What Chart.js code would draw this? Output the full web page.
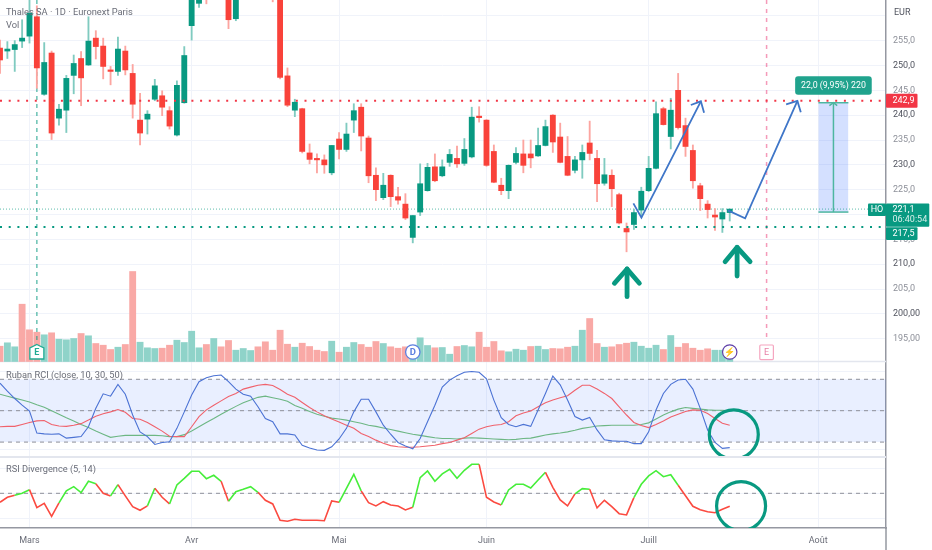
<!DOCTYPE html>
<html lang="fr"><head><meta charset="utf-8"><title>Thales SA</title>
<style>html,body{margin:0;padding:0;background:#fff}canvas{display:block}</style>
<script src="https://cdn.jsdelivr.net/npm/chart.js@4/dist/chart.umd.min.js"></script>
</head><body><canvas id="c" width="932" height="550"></canvas>
<script>
const opens=[253.5,252.9,253.2,254.9,255.9,259.8,244.2,252.5,239.4,241,248,251.4,250.1,255.5,253.9,249.1,248.8,252.9,248.4,239,239.2,243.2,243.9,240.9,236,242.5,258,262.5,270,268,270,266,259.4,268,272,272,268,268,266,247.9,241,241.3,232.4,231.3,231,228.4,235.2,233.1,239,241.6,235.4,227.9,223.4,227.9,223.6,222.1,215.4,220.5,224.8,229.6,227.8,230.5,231.3,230.3,231.6,239.8,239,232.7,225.9,224.8,230.5,232.2,232.2,231.8,233.9,240,235.6,231.7,228.9,231,234.4,231.3,226.3,227.9,224,217.2,218,220.9,224.8,229.3,241.3,235.7,245,237.9,232.9,225.8,222.1,219.9,219.1,220.4];
const highs=[255.1,254.8,255,259.2,265,262,254.6,252.9,242.2,248,252.1,252.8,259.8,257,255.5,249.8,255.7,253.9,250.2,244.4,240.9,247.2,244.9,241.7,246.9,253.8,272,268,271,272,274,268,268,276,276,275,273,268,268,249.5,243.2,241.4,234.2,232.2,232,233.9,236.5,238.4,242.3,242.3,235.8,229.4,228.3,228,225.5,224.2,219.8,230.2,230.3,232.2,231,233.1,233.8,235.3,241.6,241.7,239.1,234,227.3,230,233.5,235,235,237.4,239,240.1,238.4,235.7,231.7,234,238.8,232.9,231.3,229,224.3,218.3,221.1,225.5,231.7,242.7,241.6,243.4,248.4,239.4,234,226.3,222.8,221.2,221.2,221.1];
const lows=[248.4,251.4,248.8,253.6,254.5,245.4,244,235.1,238,236.5,244.3,241.9,250,251.3,247.3,246.1,248,248.1,239.4,234,236.2,242.9,239.9,237.2,235.8,242.4,255.1,261.7,262.4,265,266,257.4,259,266,268,268,265,262.8,247.3,241.7,239.7,232.4,230.2,228.4,228.3,228,231.2,232.7,236.5,232.8,226.4,222.8,223,221.6,222.1,219,214.3,219.8,224.7,226.6,227.6,229.7,229.5,229.9,231.4,238.6,229.7,226.4,224,223.2,230.2,228.4,229.4,231.7,233.8,232.5,230.4,227.8,228.4,227.3,231,222.6,225.9,221.6,218.1,212.5,217,219.5,224.6,229.2,238,233.2,237.2,231.7,225.3,220.8,219.3,216.8,216.4,218.7];
const closes=[251.1,253.3,254.2,255.5,260.5,249.5,250.6,236.4,241.2,247.4,250.4,247.5,254.9,253.8,249.8,248.8,253.3,249.1,242.2,236.4,240.2,245.9,241.6,237.8,246,252,268,266,264,270,268,259.2,266,272,270,268,270,265,247.6,242,242.6,232.7,231.1,231,230,233.9,233.1,236.2,240.9,235.8,227.8,225,225.9,223.6,222.9,219.3,219.8,226.2,229.5,226.8,229.6,232.1,230.2,233.1,239.6,239.5,229.9,226.5,224.8,229.9,232.3,229.9,231.4,233.9,237.7,234.6,230.5,227.9,231,232.5,232.3,226.2,228,225.2,218.3,216.5,220.4,224.7,229.3,240.3,238.1,241,237.5,233.7,226.8,223.2,221,219.5,220.4,221.1];
const volumes=[15.3,18.7,14.7,57.3,31.7,29.3,26.7,28.7,22.3,21.7,23,28,25.7,18,16.3,12,14.3,17,90,19.3,13.7,13,13.3,16.3,21.3,19,30.3,13.7,17,23,14.7,21,11.3,13,11,14.7,19.7,11.3,31.3,17.3,14.3,18.3,15,11.3,10,20.3,9.3,14.3,19,17,14.3,20,18,14.7,13.3,14.7,14,23.7,16,13.7,14,7.3,15,16,14.7,29.3,14.3,20,10.7,9.7,12.3,11.3,15,15.3,12,13,12.7,14.3,15.3,31.3,43,18,14.3,14.7,17,18.3,19.3,15.3,13.3,16.3,12,26,14.3,18,13.3,11.3,12.7,11.3,11.3,2.7];
const volumeUp=[0,1,1,0,0,0,1,0,1,1,1,0,1,0,0,0,1,0,0,1,1,1,0,0,1,1,1,1,0,1,0,0,1,1,1,0,0,0,0,0,1,0,0,0,0,1,0,1,1,0,0,0,1,0,0,0,1,1,1,0,1,1,0,1,1,0,0,0,0,1,1,1,0,1,1,0,0,0,1,1,0,0,1,0,0,0,1,1,1,1,0,1,0,0,0,0,0,1,1,1];
const rciFast=[70,50,31,14,-1,-57,-59,-60,-59,-70,-68,-66,-41,6,43,37,67,42,-11,-54,-66,-86,-81,-79,-45,-3,40,74,84,89,91,74,55,42,37,10,-20,-28,-59,-59,-62,-88,-95,-100,-101,-92,-72,-45,-3,29,29,-3,-37,-60,-81,-90,-97,-71,-28,14,60,78,89,98,100,98,81,27,-18,-35,-41,-35,-40,2,44,88,66,27,-15,-24,-17,-49,-74,-77,-78,-78,-84,-84,-54,2,44,67,78,80,55,6,-49,-81,-96,-94];
const rciMid=[-41,-40,-40,-35,-30,-26,-25,-35,-39,-40,-37,-33,-24,-14,-8,-3,3,-4,-20,-22,-30,-41,-52,-65,-66,-66,-41,-15,2,14,25,36,44,55,60,65,67,64,54,42,34,21,8,-3,-13,-21,-29,-37,-45,-58,-66,-75,-83,-89,-92,-93,-93,-92,-90,-88,-84,-81,-75,-69,-58,-47,-41,-37,-35,-28,-13,-6,-1,10,20,27,33,38,52,65,65,55,44,31,10,-11,-30,-38,-43,-35,-26,-16,-9,-2,2,1,-7,-20,-32,-37];
const rciSlow=[42,37,32,27,22,15,9,0,-9,-18,-26,-35,-43,-52,-60,-68,-65,-63,-63,-63,-63,-63,-64,-66,-66,-61,-52,-41,-30,-20,-9,1,11,20,27,34,37,33,29,24,13,6,-2,-9,-14,-19,-21,-24,-28,-32,-37,-40,-44,-48,-52,-56,-60,-63,-66,-69,-71,-71,-72,-70,-69,-70,-71,-72,-73,-74,-73,-71,-70,-66,-62,-59,-57,-54,-50,-45,-42,-39,-38,-37,-37,-37,-37,-35,-31,-21,-11,-3,4,8,6,4,2,1,1,0];
const rsiDivergence=[-7.2,-3.2,-1.6,0,2.9,-11.5,-8,-18.4,-7.7,1.9,5.3,0.5,9.6,7.7,0,-2.1,6.9,-2.1,-10.7,-13.6,-10.1,4,-3.2,-8.5,6.7,12,17.6,17.6,11.7,14.4,9.6,-6.4,1.3,3.2,5.3,0.8,-5.6,-8.5,-21.6,-22.4,-20.8,-21.6,-21.6,-21.6,-21.9,-6.1,-7.2,4,15.2,1.9,-7.5,-10.1,-6.7,-9.3,-10.1,-13.3,-11.2,12.5,17.9,9.6,15.5,19.2,12,18.4,23.2,23.2,-3.2,-6.9,-9.3,2.7,7.2,7.2,4.3,10.7,16.8,4.8,-5.3,-10.1,-0.5,3.7,3.2,-11.7,-5.6,-10.7,-16.3,-17.3,-3.5,7.2,13.9,18.1,13.3,14.9,6.4,-1.9,-10.4,-13.1,-14.7,-15.5,-12.8,-10.4];
const rsiSegmentUp=[0,0,1,1,0,0,0,0,1,1,1,1,1,0,0,1,0,0,0,0,1,0,0,1,1,1,1,1,1,1,0,1,1,1,1,0,0,0,0,0,0,0,0,0,0,0,1,1,1,0,0,0,0,0,0,0,1,1,1,1,1,1,1,1,1,0,0,0,1,1,1,1,1,1,0,0,0,0,1,1,0,0,0,0,0,0,1,1,1,1,1,1,0,0,0,0,0,0,0];
const monthIndex=[4,26,46,66,88,111];
const monthLabels=['Mars','Avr','Mai','Juin','Juill','Août'];
const priceTicks=[195,200,205,210,215,220,225,230,235,240,245,250,255,260];
const rciTicks=[-100,0,100];
const rsiTicks=[-20,0,20];
const resistance=242.9, support=217.5, lastPrice=221.1;
const rciBands=[80,0,-80];
const path1=[[85.93,222.26],[87.02,219.37],[95.08,242.79]];
const path1Head=[[93.72,242.04],[95.08,242.79],[95.52,240.49]];
const path2=[[98.74,220.85],[101.09,219.25],[108.18,242.85]];
const path2Head=[[106.65,242.18],[108.18,242.85],[108.64,240.57]];
const signalArrow1=[[85.07,203.47],[85.07,209.04]];
const signalHead1=[[83.35,206.17],[85.07,209.04],[86.74,206.17]];
const signalArrow2=[[100,207.63],[100,213.41]];
const signalHead2=[[98.37,210.51],[100,213.41],[101.76,210.51]];
const projX=[111.03,115.1], projMidX=113.07, projTop=242.5, projBottom=220.5;
const projHead=[[112.52,241.9],[113.07,242.5],[113.58,241.9]];
const projText='22,0 (9,95%) 220';
const earningsPast=5, earningsNext=104, dividendAt=56, splashAt=99;
const rciCircle=[99.55,-60.6], rsiCircle=[100.54,-10.2];
const xMax=120.2, priceMax=263.17, priceMin=156.93, volMax=361.5, volMin=-166.5;
const rciMax=1046.4, rciMin=-298.9, rsiMax=394.64, rsiMin=-27.76;

const UP='#089981', DOWN='#f9423a', FONT='Roboto, "Noto Sans", sans-serif';
const pts=a=>a.map(p=>({x:p[0],y:p[1]}));
const seq=a=>a.map((v,i)=>({x:i,y:v}));
const line=(axis,data,color,width,order,extra)=>Object.assign({type:'line',yAxisID:axis,data,borderColor:color,borderWidth:width,pointRadius:0,tension:0,fill:false,order},extra||{});
const hline=(axis,v,color,width,order,dash)=>line(axis,pts([[0,v],[xMax,v]]),color,width,order,{borderDash:dash});
const bar=(axis,data,color,thick,order)=>({type:'bar',yAxisID:axis,data,backgroundColor:color,borderWidth:0,barThickness:thick,grouped:false,order});
const isUp=opens.map((o,i)=>closes[i]>=o);
const datasets=[
  line('rci',pts([[0,80],[xMax,80]]),'rgba(0,0,0,0)',0,40,{fill:{value:-80},backgroundColor:'rgba(41,98,255,0.1)'}),
  ...rciBands.map(v=>hline('rci',v,'#8e9099',1,35,[4,4])),
  hline('rsi',0,'#8e9099',1,35,[4,4]),
  hline('vol',0,'#e3e6ee',1.5,36,[]),
  hline('rci',-118,'#e3e6ee',2,36,[]),
  bar('vol',seq(volumes),volumeUp.map(u=>u?'#8fd3c9':'#f9a9a6'),6.2,30),
  line('price',pts([[projX[0],projTop],[projX[1],projTop]]),'#4db6a0',1.5,28,{fill:{value:projBottom},backgroundColor:'rgba(41,98,255,0.2)'}),
  line('price',pts([[projX[0],projBottom],[projX[1],projBottom]]),'#4db6a0',1.5,27),
  line('price',pts([[projMidX,projBottom],[projMidX,projTop]]),'#4db6a0',1.5,27),
  line('price',pts(projHead),'#4db6a0',1.5,27),
  line('price',pts([[earningsPast,priceMax],[earningsPast,194.76]]),'rgba(8,153,129,0.6)',1.5,26,{borderDash:[4,4]}),
  line('price',pts([[earningsNext,priceMax],[earningsNext,195.15]]),'rgba(233,30,99,0.45)',1.5,26,{borderDash:[4,5]}),
  hline('price',lastPrice,'rgba(8,153,129,0.65)',1,26,[1,2]),
  bar('price',highs.map((h,i)=>({x:i,y:[lows[i],h]})),isUp.map(u=>u?'#80cbc0':'#fca5a0'),1.2,22),
  bar('price',opens.map((o,i)=>({x:i,y:[o,closes[i]]})),isUp.map(u=>u?UP:DOWN),5.2,20),
  hline('price',resistance,'#f23645',2,10,[2,6.7]),
  hline('price',support,UP,2,10,[2,6.7]),
  line('price',pts(path1),'#3f76c8',1.8,8),
  line('price',pts(path1Head),'#3f76c8',1.8,8),
  line('price',pts(path2),'#3f76c8',1.8,8),
  line('price',pts(path2Head),'#3f76c8',1.8,8),
  line('price',pts(signalArrow1),UP,4.8,7,{borderCapStyle:'round'}),
  line('price',pts(signalHead1),UP,4.8,7,{borderCapStyle:'round',borderJoinStyle:'round'}),
  line('price',pts(signalArrow2),UP,4.8,7,{borderCapStyle:'round'}),
  line('price',pts(signalHead2),UP,4.8,7,{borderCapStyle:'round',borderJoinStyle:'round'}),
  line('rci',seq(rciSlow),'#6db784',1.1,14),
  line('rci',seq(rciMid),'#f0626c',1.1,13),
  line('rci',seq(rciFast),'#4b72d4',1.1,12),
  line('rsi',seq(rsiDivergence),'#f23645',1.6,12,{segment:{borderColor:c=>rsiSegmentUp[c.p0DataIndex]?'#46ee3a':'#fb4a40'}}),
  line('rci',pts([rciCircle]),UP,0,5,{pointRadius:24.5,pointBorderWidth:3.2,pointBorderColor:UP,pointBackgroundColor:'rgba(0,0,0,0)',clip:{left:0,right:0,top:0,bottom:-72}}),
  line('rsi',pts([rsiCircle]),UP,0,5,{pointRadius:24.5,pointBorderWidth:3.2,pointBorderColor:UP,pointBackgroundColor:'rgba(0,0,0,0)',clip:{left:0,right:0,top:0,bottom:0}})
];
const fit=w=>s=>{s.width=w;s.paddingTop=0;s.paddingBottom=0;};
const setTicks=list=>s=>{s.ticks=list.map(v=>({value:v}));};
const shade=c=>c.tick.value%10===0?'#50535e':'#8d9099';
const yAxis=(min,max,ticks,fmt,w,border)=>({position:'right',min,max,afterFit:fit(w),afterBuildTicks:setTicks(ticks),border:border,
  grid:{color:'#f0f3fa',lineWidth:1,drawTicks:false},
  ticks:{autoSkip:false,padding:7,color:'#8d9099',font:{family:FONT,size:9},callback:fmt}});
const fr=d=>v=>v.toFixed(d).replace('.',',');
const priceAxis=yAxis(priceMin,priceMax,priceTicks,v=>v===260?'':(v<=200?fr(2)(v):fr(1)(v)),46,{display:true,color:'#9598a1',width:1.5});
priceAxis.ticks.color=shade;
const rsiFmt=v=>v===0?'0,0000':(v<0?'-':'')+Math.abs(v)+',000';
const overlay={id:'overlay',afterDraw(ch){
  const c=ch.ctx,p=ch.scales.price,x=ch.scales.x,vol=ch.scales.vol,r=ch.chartArea;
  const text=(s,tx,ty,col,size,al,weight)=>{c.font=(weight?weight+' ':'')+size+'px '+FONT;c.fillStyle=col;c.textAlign=al||'left';c.textBaseline='middle';c.fillText(s,tx,ty);};
  const box=(bx,by,bw,bh,col,rad)=>{c.beginPath();c.roundRect(bx,by,bw,bh,rad||0);c.fillStyle=col;c.fill();};
  c.save();
  c.strokeStyle='#9598a1';c.lineWidth=1.5;c.beginPath();c.moveTo(r.right,r.bottom);c.lineTo(r.right,ch.height);c.stroke();
  text('Thales SA · 1D · Euronext Paris',6,12.5,'#6a6d78',9.3);
  text('Vol',6,26,'#6a6d78',9.3);
  text('Ruban RCI (close, 10, 30, 50)',6,375.5,'#6a6d78',9.25);
  text('RSI Divergence (5, 14)',6,470,'#6a6d78',9.25);
  text('EUR',894,13,'#50535e',9);
  const ry=p.getPixelForValue(resistance);
  box(r.right,ry-7,31.5,14,'#f23645',1);text('242,9',r.right+6.5,ry+.5,'#fff',9);
  const hy=p.getPixelForValue(lastPrice);
  box(r.right-18,hy-5.7,18,12.7,UP,1);text('HO',r.right-9,hy+.7,'#fff',9,'center');
  box(r.right,hy-5.7,43.3,23.4,UP,1);text('221,1',r.right+6.5,hy+.7,'#fff',9);text('06:40:54',r.right+6.5,hy+11,'#d7efea',9);
  const sy=p.getPixelForValue(support);
  box(r.right,sy+.3,31.5,12.7,UP,1);text('217,5',r.right+6.5,sy+7,'#fff',9);
  const px=x.getPixelForValue(projMidX),ty=p.getPixelForValue(projTop);
  box(px-38.3,ty-26.5,76.6,18.6,'rgba(8,153,129,0.9)',3);text(projText,px,ty-17,'#fff',8.8,'center');
  const by=vol.getPixelForValue(9.5);
  const ex=x.getPixelForValue(earningsPast);
  c.beginPath();c.moveTo(ex,by-7.5);c.lineTo(ex+7,by-4);c.lineTo(ex+7,by+7);c.lineTo(ex-7,by+7);c.lineTo(ex-7,by-4);c.closePath();c.fillStyle='#fff';c.fill();c.lineWidth=1.3;c.strokeStyle='#22ab94';c.stroke();
  text('E',ex,by+.5,'#22ab94',9,'center','bold');
  const dx=x.getPixelForValue(dividendAt);
  c.beginPath();c.arc(dx,by,7.2,0,7);c.fillStyle='#fff';c.fill();c.strokeStyle='#5b7fe0';c.lineWidth=1.3;c.stroke();text('D',dx,by+.5,'#5b7fe0',9.5,'center','bold');
  const lx=x.getPixelForValue(splashAt);
  c.beginPath();c.arc(lx,by,7.2,0,7);c.fillStyle='#fff';c.fill();c.strokeStyle='#5e3ea8';c.lineWidth=1.2;c.stroke();text('⚡',lx,by+.5,'#5e3ea8',9,'center');
  const nx=x.getPixelForValue(earningsNext);
  c.beginPath();c.roundRect(nx-6.8,by-7,13.6,14.6,1);c.fillStyle='#fff';c.fill();c.strokeStyle='#f5a6c0';c.lineWidth=1.2;c.stroke();text('E',nx,by+.5,'#e77fa5',9,'center');
  c.restore();
}};
new Chart(document.getElementById('c'),{data:{datasets},plugins:[overlay],options:{
  responsive:false,animation:false,devicePixelRatio:1,parsing:true,layout:{padding:0,autoPadding:false},
  plugins:{legend:{display:false},tooltip:{enabled:false},title:{display:false}},
  scales:{
    x:{type:'linear',offset:false,min:0,max:xMax,afterFit:s=>{s.height=22;s.paddingLeft=0;s.paddingRight=0;},afterBuildTicks:setTicks(monthIndex),
      border:{display:true,color:'#9598a1',width:1.5},grid:{color:'#f0f3fa',drawTicks:false,offset:false},
      ticks:{autoSkip:false,maxRotation:0,padding:7,color:'#6a6d78',font:{family:FONT,size:9},callback:v=>monthLabels[monthIndex.indexOf(v)]}},
    price:priceAxis,
    vol:{display:false,position:'right',min:volMin,max:volMax},
    rci:yAxis(rciMin,rciMax,rciTicks,fr(2),0,{display:false}),
    rsi:yAxis(rsiMin,rsiMax,rsiTicks,rsiFmt,0,{display:false})
  }}});
</script></body></html>
